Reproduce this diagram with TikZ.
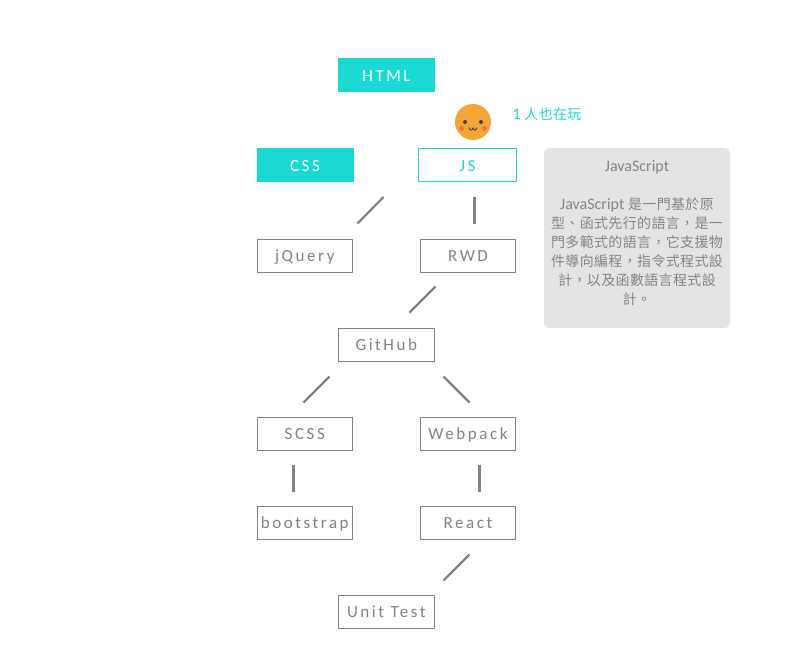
\documentclass[tikz,border=0pt]{standalone}
\usepackage{fontspec}
\setmainfont{Carlito}
\newfontfamily\nodefont[LetterSpace=15]{Carlito}
\newfontfamily\panelfont{Carlito}
\newfontfamily\cjk[LetterSpace=2.5,Scale=0.875]{Noto Sans CJK TC}
\definecolor{teal}{HTML}{19D9D2}
\definecolor{edge}{HTML}{858285}
\definecolor{panelbg}{HTML}{E5E3E4}
\definecolor{paneltxt}{HTML}{858385}
\definecolor{faceorange}{HTML}{F3A636}
\definecolor{cheek}{HTML}{F2703A}
\definecolor{facedark}{HTML}{4A4038}
\tikzset{
  labeltext/.style={inner sep=0pt,text height=12pt,text depth=0pt,font=\fontsize{17}{19}\selectfont\nodefont},
  skill/.style={labeltext,draw=edge,line width=1pt,fill=white,text=edge,minimum width=95.5pt,minimum height=33pt},
  done/.style={labeltext,fill=teal,text=white,minimum width=97pt,minimum height=34pt},
  current/.style={labeltext,draw=teal,line width=1pt,fill=white,text=teal,minimum width=98.5pt,minimum height=33pt},
  link/.style={draw=edge,line width=2.2pt},
}
\begin{document}
\begin{tikzpicture}[x=1pt,y=-1pt]
\useasboundingbox (0,0) rectangle (799,662);
\node[done] (html) at (386.5,75) {HTML};
\node[done] (css) at (305,165) {CSS};
\node[current] (js) at (467.5,165) {JS};
\node[skill] (jquery) at (304.8,255.5) {jQuery};
\node[skill] (rwd) at (468,255.5) {RWD};
\node[skill] (github) at (386.3,344.5) {GitHub};
\node[skill] (scss) at (304.8,433.5) {SCSS};
\node[skill] (webpack) at (468,433.5) {Webpack};
\node[skill] (bootstrap) at (304.8,522.5) {bootstrap};
\node[skill] (react) at (468,522.5) {React};
\node[skill] (unittest) at (386.3,611.5) {Unit Test};
% connector stubs
\coordinate (a1) at (383.5,197); \coordinate (a2) at (357.5,223.5);
\coordinate (b1) at (474.5,197); \coordinate (b2) at (474.5,223.5);
\coordinate (c1) at (435.5,286.5); \coordinate (c2) at (409.5,312.5);
\coordinate (d1) at (329.5,376.5); \coordinate (d2) at (303.5,402.5);
\coordinate (e1) at (443.5,376.5); \coordinate (e2) at (469.5,402.5);
\coordinate (f1) at (293.5,465); \coordinate (f2) at (293.5,491.5);
\coordinate (g1) at (479.5,465); \coordinate (g2) at (479.5,491.5);
\coordinate (h1) at (469.5,554.5); \coordinate (h2) at (443.5,580.5);
\draw[link] (a1) -- (a2);
\draw[link] (b1) -- (b2);
\draw[link] (c1) -- (c2);
\draw[link] (d1) -- (d2);
\draw[link] (e1) -- (e2);
\draw[link] (f1) -- (f2);
\draw[link] (g1) -- (g2);
\draw[link] (h1) -- (h2);
% avatar
\node[circle,fill=faceorange,minimum size=36pt,inner sep=0pt] (face) at (473,122) {};
\fill[facedark] (465,122) circle (2);
\fill[facedark] (481,122) circle (2);
\fill[cheek] (461.5,128.5) circle (2.4);
\fill[cheek] (484.5,128.5) circle (2.4);
\draw[facedark,line width=0.9pt] (469,127.5) .. controls (470,131) and (472,131) .. (473,128) .. controls (474,131) and (476,131) .. (477,127.5);
\node[inner sep=0pt,text=teal,font=\fontsize{16}{18}\selectfont,anchor=west] (count) at (512.5,114) {{\nodefont 1} {\cjk 人也在玩}};
% panel
\node[fill=panelbg,rounded corners=5pt,minimum width=186pt,minimum height=180pt,inner sep=0pt] (panel) at (637,238) {};
\node[text=paneltxt,align=center,inner sep=0pt,font=\fontsize{16}{19}\selectfont] (paneltext) at (637,233.5) {JavaScript\\
\mbox{}\\
JavaScript {\cjk 是一門基於原}\\
{\cjk 型、函式先行的語言，是一}\\
{\cjk 門多範式的語言，它支援物}\\
{\cjk 件導向編程，指令式程式設}\\
{\cjk 計，以及函數語言程式設}\\
{\cjk 計。}};
\end{tikzpicture}
\end{document}
